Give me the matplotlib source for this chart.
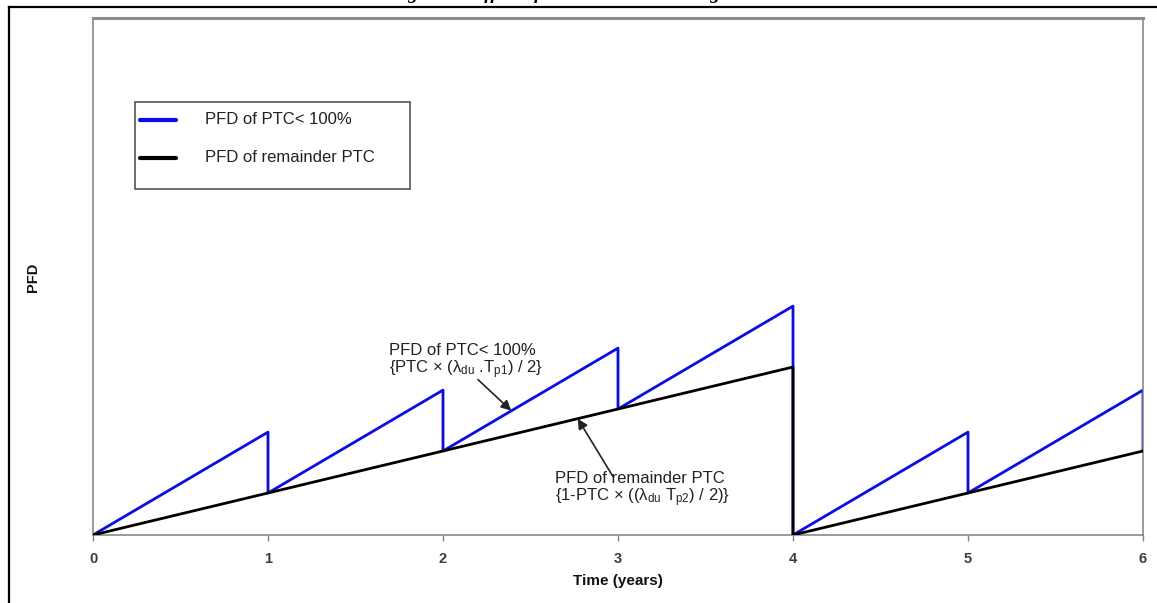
import matplotlib
matplotlib.use("Agg")
import matplotlib.pyplot as plt
from matplotlib.lines import Line2D
from matplotlib.patches import Rectangle

plt.rcParams['font.family'] = ['Liberation Sans', 'DejaVu Sans']
plt.rcParams['mathtext.fontset'] = 'custom'
plt.rcParams['mathtext.rm'] = 'Liberation Sans'
plt.rcParams['mathtext.it'] = 'Liberation Sans'

# PFD sawtooth: partial-coverage part is restored at every yearly proof test,
# remainder only at the full overhaul in year 4
t_ptc = [0, 1, 1, 2, 2, 3, 3, 4, 4, 4, 5, 5, 6, 6]
pfd_ptc = [0, 0.245, 0.10, 0.345, 0.20, 0.445, 0.30, 0.545, 0.40, 0.0, 0.245, 0.10, 0.345, 0.20]
t_rem = [0, 1, 2, 3, 4, 4, 5, 6]
pfd_rem = [0, 0.10, 0.20, 0.30, 0.40, 0.0, 0.10, 0.20]
year_ticks = [0, 1, 2, 3, 4, 5, 6]

W, H = 1157, 603


def fx(px):
    return px / W


def fy(py):
    return 1 - py / H


fig = plt.figure(figsize=(W / 100, H / 100), dpi=100)
ax = fig.add_axes([fx(93), fy(535), (1143 - 93) / W, (535 - 18) / H])

ax.plot(t_ptc, pfd_ptc, color='#0a0af0', lw=2.0, zorder=2, label='PFD of PTC< 100%')
ax.plot(t_rem, pfd_rem, color='black', lw=2.0, zorder=3, label='PFD of remainder PTC')

ax.set_xlim(0, 6)
ax.set_ylim(0, 517 / 420)
ax.set_xticks(year_ticks)
ax.set_yticks([])
for lab in ax.get_xticklabels():
    lab.set_fontweight('bold')
ax.tick_params(axis='x', direction='out', length=4, width=1, color='#808080',
               labelcolor='#3a3a4a', labelsize=10.5, pad=8)
for side in ['left', 'right', 'bottom']:
    ax.spines[side].set_color('#808080')
    ax.spines[side].set_linewidth(1.1)
ax.spines['top'].set_color('#8c8c8c')
ax.spines['top'].set_linewidth(2.2)

fig.text(fx(618), fy(581), 'Time (years)', ha='center', va='center',
         fontsize=11, fontweight='bold', color='#111111')
fig.text(fx(33), fy(277), 'PFD', ha='center', va='center', rotation=90,
         fontsize=10.5, fontweight='bold', color='#111111')

# annotations with arrows onto the two curves
ax.annotate('', xy=(2.39, 0.296), xytext=(2.2, 0.37),
            arrowprops=dict(arrowstyle='-|>', color='#222222', lw=1.2,
                            mutation_scale=15, shrinkA=0, shrinkB=0))
fig.text(fx(389), fy(343), 'PFD of PTC< 100%\n{PTC × (λ$_{\\rm du}$ .T$_{\\rm p1}$) / 2}',
         ha='left', va='top', fontsize=12, linespacing=1.0, color='#222222')
ax.annotate('', xy=(2.77, 0.277), xytext=(2.97, 0.14),
            arrowprops=dict(arrowstyle='-|>', color='#222222', lw=1.2,
                            mutation_scale=15, shrinkA=0, shrinkB=0))
fig.text(fx(555), fy(471), 'PFD of remainder PTC\n{1-PTC × ((λ$_{\\rm du}$ T$_{\\rm p2}$) / 2)}',
         ha='left', va='top', fontsize=12, linespacing=1.0, color='#222222')

# legend box drawn by hand
fig.add_artist(Rectangle((fx(135), fy(189)), (410 - 135) / W, (189 - 102) / H,
                         transform=fig.transFigure, fill=False, edgecolor='#555555', lw=1.2))
handles = ax.get_lines()
for line, ypix in zip(handles, [120, 158]):
    fig.add_artist(Line2D([fx(140), fx(176)], [fy(ypix), fy(ypix)], color=line.get_color(),
                          lw=3, solid_capstyle='round', transform=fig.transFigure))
    fig.text(fx(205), fy(ypix), line.get_label(), ha='left', va='center',
             fontsize=12, color='#222222')

# page frame and the caption running off the top
fig.add_artist(Line2D([fx(9), fx(9)], [0, fy(7)], color='black', lw=1.6))
fig.add_artist(Line2D([fx(9), 1], [fy(7), fy(7)], color='black', lw=1.6))
fig.text(fx(555), 1.002, 'Figure 3: Effect of Partial Stroke Testing', ha='center', va='baseline',
         fontsize=14, fontweight='bold', fontstyle='italic',
         family=['Liberation Serif', 'DejaVu Serif'])

fig.savefig('out.png', dpi=100)
